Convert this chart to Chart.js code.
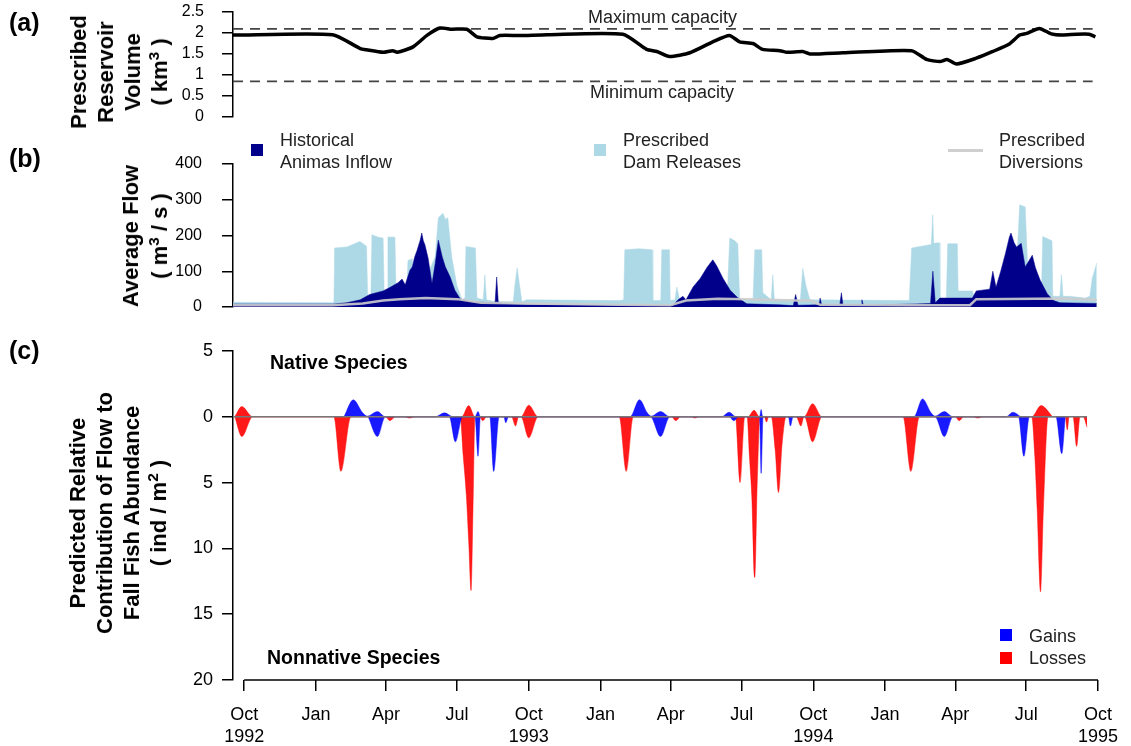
<!DOCTYPE html>
<html>
<head>
<meta charset="utf-8">
<script src="https://cdn.jsdelivr.net/npm/chart.js@4"></script>
<style>
  body { margin: 0; background: #fff; font-family: 'Liberation Sans', Arial, sans-serif; }
  #wrap { position: relative; width: 1131px; height: 746px; overflow: hidden; }
  canvas { position: absolute; left: 0; top: 0; }
  .txt { position: absolute; white-space: nowrap; color: #222; font-size: 18px; line-height: 22px; }
  .lab { position: absolute; font-weight: bold; font-size: 25px; color: #000; }
  .ytitle { position: absolute; transform: translate(-50%, -50%) rotate(-90deg); font-weight: bold;
            font-size: 22px; line-height: 27px; text-align: center; white-space: nowrap; color: #000; }
  sup { font-size: 0.7em; line-height: 0; vertical-align: 0.55em; }
  .sq { position: absolute; width: 12px; height: 12px; }
  .bold { font-weight: bold; color: #000; font-size: 19.5px; }
</style>
</head>
<body>
<div id="wrap">
  <canvas id="chartA" width="1131" height="746"></canvas>
  <canvas id="chartB" width="1131" height="746"></canvas>
  <canvas id="chartC" width="1131" height="746"></canvas>

  <div class="lab" style="left:9px;top:8px;">(a)</div>
  <div class="lab" style="left:9px;top:144px;">(b)</div>
  <div class="lab" style="left:9px;top:336px;">(c)</div>

  <div class="ytitle" style="left:119px;top:72px;">Prescribed<br>Reservoir<br>Volume<br>( km<sup>3</sup> )</div>
  <div class="ytitle" style="left:145px;top:236px;line-height:29px;">Average Flow<br>( m<sup>3</sup> / s )</div>
  <div class="ytitle" style="left:118px;top:513px;">Predicted Relative<br>Contribution of Flow to<br>Fall Fish Abundance<br>( ind / m<sup>2</sup> )</div>

  <div class="txt" style="left:588px;top:6px;">Maximum capacity</div>
  <div class="txt" style="left:590px;top:81px;">Minimum capacity</div>

  <div class="sq" style="left:251px;top:144px;background:#00008B;"></div>
  <div class="txt" style="left:280px;top:129px;">Historical<br>Animas Inflow</div>
  <div class="sq" style="left:594px;top:144px;background:#ADD8E6;"></div>
  <div class="txt" style="left:623px;top:129px;">Prescribed<br>Dam Releases</div>
  <div style="position:absolute;left:948px;top:149px;width:35px;height:3px;background:#cfcfcf;"></div>
  <div class="txt" style="left:999px;top:129px;">Prescribed<br>Diversions</div>

  <div class="txt bold" style="left:270px;top:351px;">Native Species</div>
  <div class="txt bold" style="left:267px;top:646px;">Nonnative Species</div>

  <div class="sq" style="left:1000px;top:629px;background:#0000FF;"></div>
  <div class="txt" style="left:1029px;top:625px;">Gains</div>
  <div class="sq" style="left:1000px;top:652px;background:#FF0000;"></div>
  <div class="txt" style="left:1029px;top:647px;">Losses</div>
</div>

<script>
// days since 1 Oct 1992
const dayMin = -14.3;
const dayMax = 1095;
const tickDays = [0, 92, 182, 273, 365, 457, 547, 638, 730, 822, 912, 1003, 1095];
const tickLabels = [['Oct', '1992'], 'Jan', 'Apr', 'Jul', ['Oct', '1993'], 'Jan', 'Apr', 'Jul',
                    ['Oct', '1994'], 'Jan', 'Apr', 'Jul', ['Oct', '1995']];

// (a) reservoir volume, km3
const maxCapacity = 2.1;
const minCapacity = 0.85;
const capacityDays = [-14.3, 1075.5];
const reservoirVolume = [[-14.3,1.95],[112,1.96],[147,1.63],[155,1.6],[176,1.54],[188,1.58],[194,1.54],
  [214,1.67],[232,1.95],[248,2.12],[263,2.09],[282,2.09],[295,1.91],[315,1.87],[324,1.94],[349,1.94],
  [384,1.96],[480,1.97],[510,1.61],[523,1.56],[539,1.44],[565,1.53],[594,1.79],[615,1.94],[628,1.79],
  [645,1.75],[657,1.61],[679,1.58],[688,1.54],[708,1.56],[717,1.5],[759,1.53],[846,1.58],[865,1.37],
  [882,1.32],[891,1.37],[903,1.26],[928,1.40],[949,1.56],[970,1.74],[983,1.95],[992,1.99],[1008,2.11],
  [1023,1.98],[1037,1.95],[1055,1.97],[1071,1.97],[1079,1.91]];

// (b) average flow, m3/s
const damReleases = [[-14.3,13],[112,12],[113.7,15],[114.5,165],[130,168],[146.6,183],[152,175],[155,170],
  [156.5,20],[160.5,20],[161.8,202],[170,195],[176,193],[177.5,20],[181,20],[182.1,196],[191,195],
  [192.5,20],[206,25],[207.5,130],[213,135],[215,60],[230,80],[242,140],[246,250],[251.8,262],[255,245],
  [258,250],[263,140],[269.6,60],[276,20],[279.8,25],[281,169],[293,165],[295,25],[303,20],[305,90],
  [307,20],[317,15],[341,15],[343,60],[346,110],[349,60],[352,15],[358,20],[476,18],[481,20],[482.4,160],
  [500,163],[517,160],[518,18],[528,18],[529.3,160],[539,160],[540,18],[546,20],[548.3,56],[552,20],
  [612,18],[615.5,193],[622,185],[625.7,176],[628,20],[645,20],[647.2,160],[656,160],[657.4,40],[668,20],
  [670,90],[672,20],[705,20],[708,108],[712,60],[717,20],[843,18],[846.1,165],[871,175],[872.8,258],
  [874,178],[881,180],[882,20],[890,22],[891.8,177],[904,177],[905,45],[923,45],[925,30],[945,50],
  [957,60],[970,90],[980,150],[983,286],[990,280],[993,120],[1005,70],[1011,70],[1012.2,197],[1024,185],
  [1025,30],[1034,30],[1036,90],[1038,30],[1046,30],[1066,25],[1072,30],[1075,80],[1080.7,123]];
const animasInflow = [[-14.3,8],[112,8],[130,12],[147,20],[159,35],[176,45],[185,55],[195,68],[200,78],
  [204,62],[210,103],[213,112],[216,140],[219,158],[223,187],[225,207],[227,185],[229,174],[233,137],
  [238,66],[242,121],[246,187],[251,140],[255,112],[261,84],[267,47],[274,22],[290,14],[316,12],[318,14],
  [320,84],[322,14],[328,9],[358,6],[476,5],[543,4],[550,20],[556,30],[560,20],[569,56],[578,80],[587,112],
  [594,132],[599,115],[607,80],[616,47],[625,27],[637,9],[679,6],[696,4],[699,35],[702,5],[729,6],[730,25],
  [732,6],[755,6],[757,40],[759,6],[782,6],[783,20],[785,5],[844,8],[870,10],[873,100],[876,12],[882,25],
  [923,25],[928,45],[945,50],[949,100],[953,55],[959,100],[965,150],[970,196],[972,207],[976,180],
  [979,168],[985,178],[990,112],[995,130],[999,145],[1003,110],[1005,98],[1009,75],[1018,37],[1026,18],
  [1034,12],[1080.7,10]];
const diversions = [[-14.3,5],[112,5],[150,10],[176,18],[197,22],[230,25],[270,22],[300,12],[358,10],
  [476,6],[540,5],[560,18],[600,23],[640,22],[700,18],[718,18],[730,6],[844,5],[920,5],[928,22],
  [1040,24],[1080.7,20]];

// (c) contribution of flow, ind/m2 (magnitudes)
const nativeGains = [[128,0],[140,1.29],[152,0.3],[158,0.05],[171,0.4],[181,0],[245,0],[257,0.3],[268,0],
  [296,0],[300,0.4],[303,0],[495,0],[507,1.3],[517,0.3],[522,0.05],[534,0.4],[546,0],[612,0],[622,0.35],
  [631,0],[661,0],[663,0.55],[665,0],[859,0],[870,1.36],[881,0.3],[886,0.05],[898,0.4],[909,0],[977,0],
  [986,0.35],[996,0]];
const nativeLosses = [[-12,0],[-3,0.78],[11,0],[279,0],[288,0.85],[296,0],[355,0],[365,0.88],[377,0],
  [646,0],[654,0.5],[661,0],[718,0],[729,1.0],[741,0],[1010,0],[1022,0.85],[1037,0]];
const nonnativeGains = [[159,0],[171,1.5],[181,0],[263,0],[271,1.9],[280,0],[296,0],[300,3.0],[303,0],
  [315,0],[320,4.15],[327,0],[333,0],[335.5,0.45],[339,0],[521,0],[534,1.5],[546,0],[622,0],[628,0.3],
  [634,0],[661,0],[663,4.3],[665.5,0],[698,0],[700.5,0.7],[704,0],[886,0],[898,1.5],[909,0],[993,0],
  [1000,3.0],[1007,0],[1041,0],[1048.6,2.8],[1053,0]];
const nonnativeLosses = [[-12,0],[-3,1.5],[11,0],[115,0],[124,4.15],[137,0],[181,0],[187,0.3],[194,0],
  [206,0],[212,0.1],[219,0],[277,0],[281,3],[285,6],[288,9.5],[291,13.2],[293.5,7],[296,0],[302,0],
  [306,0.3],[311,0],[343,0],[348,0.7],[352,0],[355,0],[365,1.6],[377,0],[481,0],[490,4.15],[499,0],
  [548,0],[553.5,0.3],[560,0],[574,0],[578,0.1],[583,0],[630,0],[636,5.0],[642,0],[645,0],[648,3],
  [651,6],[654.8,12.2],[658,5],[661.5,0],[667,0],[670,0.4],[672.5,0],[676,0],[681,2.5],[685.3,5.75],
  [690,2],[695,0],[708,0],[714,0.7],[718,0],[718.5,0],[729,1.9],[741,0],[845,0],[855,4.15],[866,0],
  [912,0],[917,0.3],[923,0],[935,0],[941,0.1],[947,0],[1010,0],[1014,3],[1017,7],[1021.3,13.3],
  [1025,7],[1031,0],[1053,0],[1055.6,1.0],[1058,0],[1063,0],[1067.6,2.25],[1072,0],[1076,0],[1081,0.8]];
const zeroLine = [[-14.3,0],[1081,0]];

Chart.defaults.font.family = "'Liberation Sans', Arial, sans-serif";
Chart.defaults.color = '#000';

const pts = (arr, sign = 1) => arr.map(([x, y]) => ({ x: x, y: sign * y }));

function xScale(show) {
  const s = {
    type: 'linear', min: dayMin, max: dayMax, display: show,
    afterBuildTicks: (sc) => { sc.ticks = tickDays.map(v => ({ value: v })); },
    grid: { drawOnChartArea: false, drawTicks: true, tickLength: 11, color: '#000', lineWidth: 1.5 },
    border: { display: false },
    ticks: { autoSkip: false, maxRotation: 0, padding: 13, font: { size: 18, lineHeight: 1.22 },
             callback: (v, i) => tickLabels[i] }
  };
  if (show) s.afterFit = (sc) => { sc.height = 66; };
  return s;
}
function yScale(min, max, step, pad, size, cb) {
  return {
    min: min, max: max,
    // fixed axis width, no extra room asked above/below the plot
    afterFit: (s) => { s.width = 233; s.paddingTop = 0; s.paddingBottom = 0; },
    grid: { drawOnChartArea: false, drawTicks: true, tickLength: 11, color: '#000', lineWidth: 1.5 },
    border: { display: true, color: '#000', width: 1.5 },
    ticks: { stepSize: step, padding: pad, autoSkip: false, font: { size: size }, callback: cb }
  };
}
const baseOpts = (padTop, padBottom) => ({
  responsive: false, animation: false,
  layout: { padding: { left: 0, right: 23, top: padTop, bottom: padBottom } },
  plugins: { legend: { display: false }, tooltip: { enabled: false } },
  elements: { point: { radius: 0 } }
});

// R style bottom axis: line only from first to last tick
const rAxisLine = {
  id: 'rAxisLine',
  afterDraw(chart) {
    const x = chart.scales.x;
    const y = chart.chartArea.bottom;
    const ctx = chart.ctx;
    ctx.save();
    ctx.strokeStyle = '#000';
    ctx.lineWidth = 1.5;
    ctx.beginPath();
    ctx.moveTo(x.getPixelForValue(tickDays[0]), y);
    ctx.lineTo(x.getPixelForValue(tickDays[tickDays.length - 1]), y);
    ctx.stroke();
    ctx.restore();
  }
};

// (a)
let optsA = baseOpts(12, 629);
optsA.scales = { x: xScale(false), y: yScale(0, 2.5, 0.5, 18, 16) };
new Chart(document.getElementById('chartA'), {
  type: 'line',
  data: {
    datasets: [
      { data: pts(reservoirVolume), borderColor: '#000', borderWidth: 3.5, tension: 0.2 },
      { data: capacityDays.map(d => ({ x: d, y: maxCapacity })), borderColor: '#444', borderWidth: 1.8, borderDash: [10, 7] },
      { data: capacityDays.map(d => ({ x: d, y: minCapacity })), borderColor: '#444', borderWidth: 1.8, borderDash: [10, 7] }
    ]
  },
  options: optsA
});

// (b)
let optsB = baseOpts(164, 439);
optsB.scales = { x: xScale(false), y: yScale(0, 400, 100, 20, 16) };
new Chart(document.getElementById('chartB'), {
  type: 'line',
  data: {
    datasets: [
      { data: pts(diversions), borderColor: 'rgba(205,205,205,0.9)', borderWidth: 2.5, tension: 0 },
      { data: pts(animasInflow), borderColor: '#00008B', borderWidth: 0.5, backgroundColor: '#00008B', fill: 'origin', tension: 0 },
      { data: pts(damReleases), borderColor: '#ADD8E6', borderWidth: 0.5, backgroundColor: '#ADD8E6', fill: 'origin', tension: 0 }
    ]
  },
  options: optsB
});

// (c)
let optsC = baseOpts(351, 0);
optsC.scales = { x: xScale(true), y: yScale(-20, 5, 5, 9, 18, (v) => Math.abs(v)) };
const blue = 'rgba(0,0,255,0.9)';
const red = 'rgba(255,0,0,0.9)';
const area = (arr, sign, col) => ({ data: pts(arr, sign), borderColor: col, borderWidth: 0.5,
  backgroundColor: col, fill: 'origin', cubicInterpolationMode: 'monotone' });
new Chart(document.getElementById('chartC'), {
  type: 'line',
  data: {
    datasets: [
      { data: pts(zeroLine), borderColor: '#777', borderWidth: 1.5 },
      area(nativeGains, 1, blue),
      area(nativeLosses, 1, red),
      area(nonnativeGains, -1, blue),
      area(nonnativeLosses, -1, red)
    ]
  },
  options: optsC,
  plugins: [rAxisLine]
});
</script>
</body>
</html>
